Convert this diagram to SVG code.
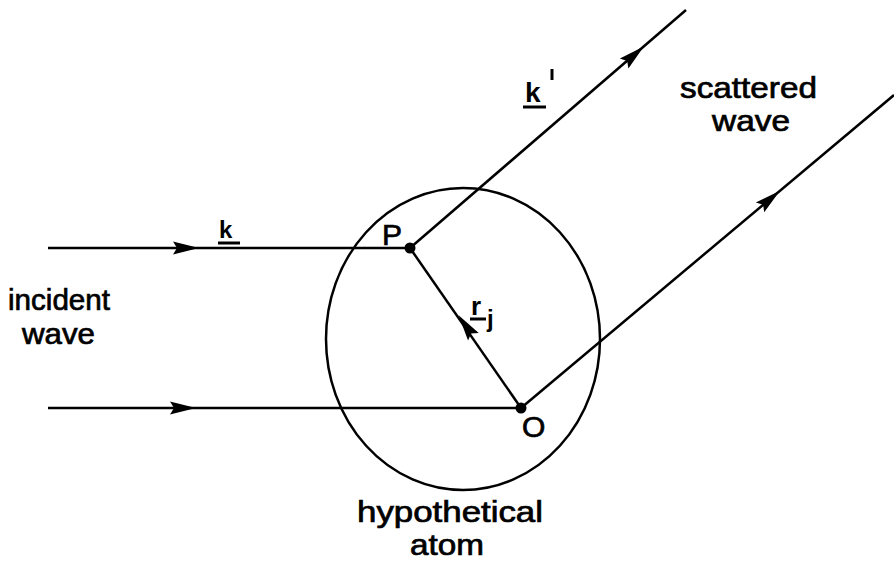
<svg xmlns="http://www.w3.org/2000/svg" width="894" height="565" viewBox="0 0 894 565">
<defs>
<style>
.ln{stroke:#000;stroke-width:2.5;fill:none}
.t{font-family:"Liberation Sans",Arial,sans-serif;font-size:29px;fill:#000;stroke:#000;stroke-width:0.7}
.lb{font-family:"Liberation Sans",Arial,sans-serif;font-size:30px;fill:#000;stroke:#000;stroke-width:0.7}
.v{font-family:"Liberation Sans",Arial,sans-serif;font-weight:bold;fill:#000}
.u{stroke:#000;stroke-width:3}
</style>
<path id="a" d="M-13,-6.5 L13,0 L-13,6.5 L-9,0 Z" fill="#000"/>
</defs>
<rect width="894" height="565" fill="#fff"/>
<g id="atom">
<ellipse cx="463" cy="339" rx="137" ry="151" class="ln"/>
<text class="t" x="357" y="522" textLength="186" lengthAdjust="spacingAndGlyphs">hypothetical</text>
<text class="t" x="410" y="555" textLength="74" lengthAdjust="spacingAndGlyphs">atom</text>
</g>
<g id="connectors">
<line x1="48" y1="248" x2="410" y2="248" class="ln"/>
<line x1="48" y1="408" x2="521" y2="408" class="ln"/>
<line x1="410" y1="248" x2="686" y2="10" class="ln"/>
<line x1="521" y1="408" x2="894" y2="95" class="ln"/>
<line x1="521" y1="408" x2="410" y2="248" class="ln"/>
<use href="#a" transform="translate(186,248)"/>
<use href="#a" transform="translate(183,408)"/>
<use href="#a" transform="translate(634,55) rotate(-40.8)"/>
<use href="#a" transform="translate(770,199) rotate(-40)"/>
<use href="#a" transform="translate(466,326) rotate(-124.7)"/>
</g>
<g id="P"><circle cx="410" cy="248" r="5.5" fill="#000"/><text class="lb" x="382" y="245">P</text></g>
<g id="O"><circle cx="521" cy="408" r="5.5" fill="#000"/><text class="lb" x="522" y="437">O</text></g>
<g id="labels">
<text class="v" x="219" y="238" font-size="24">k</text>
<line x1="218" y1="243" x2="240" y2="243" class="u"/>
<text class="v" x="525" y="102" font-size="28">k</text>
<line x1="523" y1="107" x2="546" y2="107" class="u"/>
<line x1="552" y1="69" x2="552" y2="80" class="u"/>
<text class="v" x="471" y="315" font-size="26">r</text>
<line x1="470" y1="319" x2="486" y2="319" class="u"/>
<text class="v" x="487" y="327" font-size="24">j</text>
<text class="t" x="680" y="98" textLength="137" lengthAdjust="spacingAndGlyphs">scattered</text>
<text class="t" x="712" y="131" textLength="78" lengthAdjust="spacingAndGlyphs">wave</text>
<text class="t" x="8" y="310" textLength="102" lengthAdjust="spacingAndGlyphs">incident</text>
<text class="t" x="22" y="344" textLength="73" lengthAdjust="spacingAndGlyphs">wave</text>
</g>
</svg>
